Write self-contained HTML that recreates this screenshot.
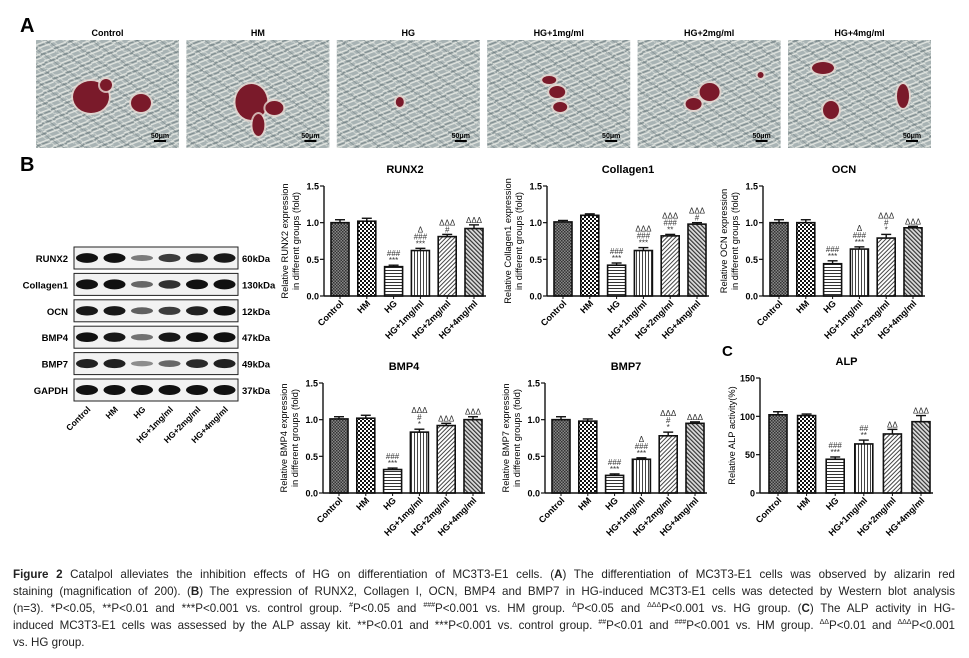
<!DOCTYPE html>
<html><head><meta charset="utf-8">
<style>
html,body{margin:0;padding:0;background:#fff;}
body{width:969px;height:658px;position:relative;overflow:hidden;font-family:"Liberation Sans",sans-serif;}
#fig{position:absolute;left:0;top:0;}
.cap{position:absolute;left:13px;width:942px;font-size:11.6px;color:#222;line-height:17px;white-space:nowrap;}
.cap div{text-align:justify;text-align-last:justify;white-space:normal;height:17px;overflow:hidden;}
.cap div.last{text-align-last:left;}
.cap sup{font-size:7px;vertical-align:5px;line-height:0;}
</style></head>
<body>
<svg id="fig" width="969" height="545" xmlns="http://www.w3.org/2000/svg" font-family="Liberation Sans, sans-serif">
<defs>
<pattern id="p0" width="3" height="3" patternUnits="userSpaceOnUse"><rect width="3" height="3" fill="#888"/><rect width="1.5" height="1.5" fill="#333"/><rect x="1.5" y="1.5" width="1.5" height="1.5" fill="#333"/></pattern>
<pattern id="p1" width="4" height="4" patternUnits="userSpaceOnUse"><rect width="4" height="4" fill="#fff"/><rect width="2" height="2" fill="#111"/><rect x="2" y="2" width="2" height="2" fill="#111"/></pattern>
<pattern id="p2" width="4" height="3" patternUnits="userSpaceOnUse"><rect width="4" height="3" fill="#fff"/><rect width="4" height="1" fill="#333"/></pattern>
<pattern id="p3" width="3" height="4" patternUnits="userSpaceOnUse"><rect width="3" height="4" fill="#fff"/><rect width="1" height="4" fill="#444"/></pattern>
<pattern id="p4" width="3" height="3" patternUnits="userSpaceOnUse" patternTransform="rotate(45)"><rect width="3" height="3" fill="#fff"/><rect width="1" height="3" fill="#444"/></pattern>
<pattern id="p5" width="3" height="3" patternUnits="userSpaceOnUse" patternTransform="rotate(-45)"><rect width="3" height="3" fill="#ddd"/><rect width="1.2" height="3" fill="#333"/></pattern>
<pattern id="cells" width="14" height="9" patternUnits="userSpaceOnUse" patternTransform="rotate(-25)"><rect width="14" height="9" fill="#a8b3b4"/><path d="M0 2 L14 3 M0 6 L14 7" stroke="#e4e7e2" stroke-width="1.3"/><path d="M0 4 L14 5" stroke="#6f7d80" stroke-width="0.8"/></pattern>
<pattern id="cells2" width="11" height="13" patternUnits="userSpaceOnUse" patternTransform="rotate(35)"><path d="M0 3 L11 4 M0 9 L11 10" stroke="#dfe3de" stroke-width="1" opacity="0.7"/><path d="M0 6 L11 7" stroke="#667578" stroke-width="0.7" opacity="0.6"/></pattern>
</defs>
<g id="partA"></g>
<text x="20" y="32" font-size="20" font-weight="bold">A</text>
<text x="20" y="171" font-size="20" font-weight="bold">B</text>
<text x="722" y="356" font-size="15" font-weight="bold">C</text>
<g id="blot"></g>
<g id="charts"></g>
</svg>

<div class="cap" style="top:566px">
<div><b>Figure 2</b> Catalpol alleviates the inhibition effects of HG on differentiation of MC3T3-E1 cells. (<b>A</b>) The differentiation of MC3T3-E1 cells was observed by alizarin red</div>
<div>staining (magnification of 200). (<b>B</b>) The expression of RUNX2, Collagen I, OCN, BMP4 and BMP7 in HG-induced MC3T3-E1 cells was detected by Western blot analysis</div>
<div>(n=3). *P&lt;0.05, **P&lt;0.01 and ***P&lt;0.001 vs. control group. <sup>#</sup>P&lt;0.05 and <sup>###</sup>P&lt;0.001 vs. HM group. <sup>&#916;</sup>P&lt;0.05 and <sup>&#916;&#916;&#916;</sup>P&lt;0.001 vs. HG group. (<b>C</b>) The ALP activity in HG-</div>
<div>induced MC3T3-E1 cells was assessed by the ALP assay kit. **P&lt;0.01 and ***P&lt;0.001 vs. control group. <sup>##</sup>P&lt;0.01 and <sup>###</sup>P&lt;0.001 vs. HM group. <sup>&#916;&#916;</sup>P&lt;0.01 and <sup>&#916;&#916;&#916;</sup>P&lt;0.001</div>
<div class="last">vs. HG group.</div>
</div>

<script>
const NS = "http://www.w3.org/2000/svg";
const groups = ["Control","HM","HG","HG+1mg/ml","HG+2mg/ml","HG+4mg/ml"];
const runx2Values = [1.0, 1.02, 0.40, 0.62, 0.81, 0.92];
const runx2Errors = [0.04, 0.04, 0.02, 0.03, 0.03, 0.05];
const collagenValues = [1.01, 1.10, 0.42, 0.62, 0.82, 0.98];
const collagenErrors = [0.02, 0.02, 0.03, 0.04, 0.02, 0.02];
const ocnValues = [1.0, 1.0, 0.44, 0.64, 0.79, 0.93];
const ocnErrors = [0.04, 0.04, 0.04, 0.03, 0.05, 0.02];
const bmp4Values = [1.01, 1.02, 0.32, 0.83, 0.92, 1.0];
const bmp4Errors = [0.03, 0.04, 0.02, 0.04, 0.03, 0.04];
const bmp7Values = [1.0, 0.98, 0.24, 0.46, 0.78, 0.95];
const bmp7Errors = [0.04, 0.03, 0.02, 0.02, 0.05, 0.02];
const alpValues = [102, 101, 44, 64, 77, 93];
const alpErrors = [4, 2, 3, 5, 6, 8];
const foldTicks = [0.0, 0.5, 1.0, 1.5];
const foldTickLabels = ["0.0","0.5","1.0","1.5"];
const alpTicks = [0, 50, 100, 150];
const alpTickLabels = ["0","50","100","150"];
const runx2Notes = [[],[],["###","***"],["Δ","###","***"],["ΔΔΔ","#"],["ΔΔΔ"]];
const collagenNotes = [[],[],["###","***"],["ΔΔΔ","###","***"],["ΔΔΔ","###","**"],["ΔΔΔ","#"]];
const ocnNotes = [[],[],["###","***"],["Δ","###","***"],["ΔΔΔ","#","*"],["ΔΔΔ"]];
const bmp4Notes = [[],[],["###","***"],["ΔΔΔ","#","*"],["ΔΔΔ"],["ΔΔΔ"]];
const bmp7Notes = [[],[],["###","***"],["Δ","###","***"],["ΔΔΔ","#","*"],["ΔΔΔ"]];
const alpNotes = [[],[],["###","***"],["##","**"],["ΔΔ"],["ΔΔΔ"]];
const blotProteins = ["RUNX2","Collagen1","OCN","BMP4","BMP7","GAPDH"];
const blotSizes = ["60kDa","130kDa","12kDa","47kDa","49kDa","37kDa"];
const blotIntensity = [
 [0.95,0.95,0.35,0.7,0.85,0.9],
 [1.0,1.0,0.45,0.75,0.95,1.0],
 [0.9,0.9,0.5,0.7,0.85,0.95],
 [0.95,0.9,0.4,0.9,0.95,1.0],
 [0.85,0.85,0.25,0.45,0.8,0.85],
 [1,1,1,1,1,1]];
const micrographTitles = ["Control","HM","HG","HG+1mg/ml","HG+2mg/ml","HG+4mg/ml"];

function mk(tag, attrs, parent){const e=document.createElementNS(NS,tag);for(const k in attrs)e.setAttribute(k,attrs[k]);parent.appendChild(e);return e;}

// Part A micrographs
const blobs = [
 [[55,57,18,16],[105,63,10,9],[70,45,6,6]],
 [[65,62,16,18],[88,68,9,7],[72,85,6,11]],
 [[63,62,4,5]],
 [[62,40,7,4],[70,52,8,6],[73,67,7,5]],
 [[72,52,10,9],[56,64,8,6],[123,35,3,3]],
 [[35,28,11,6],[43,70,8,9],[115,56,6,12]]];
const pa = document.getElementById("partA");
for(let i=0;i<6;i++){
  const x = 36 + i*150.4;
  const g = mk("g",{},pa);
  
  
  mk("rect",{x:x,y:40,width:143,height:108,fill:"url(#cells)"},g);
  mk("rect",{x:x,y:40,width:143,height:108,fill:"url(#cells2)"},g);
  for(const b of blobs[i]){
    mk("ellipse",{cx:x+b[0],cy:40+b[1],rx:b[2]+2,ry:b[3]+2,fill:"#e6d6d0",opacity:0.8},g);
    mk("ellipse",{cx:x+b[0],cy:40+b[1],rx:b[2],ry:b[3],fill:"#7a1a2a"},g);
  }
  const t = mk("text",{x:x+71.5,y:36,"font-size":9,"font-weight":"bold","text-anchor":"middle"},g);
  t.textContent = micrographTitles[i];
  const s = mk("text",{x:x+124,y:138,"font-size":7,"font-weight":"bold","text-anchor":"middle"},g);
  s.textContent = "50μm";
  mk("rect",{x:x+118,y:140,width:12,height:2,fill:"#000"},g);
}

// Western blot
const bl = document.getElementById("blot");
blotProteins.forEach((p,r)=>{
  const cy = 258 + r*26.4;
  const g = mk("g",{},bl);
  
  
  mk("rect",{x:74,y:cy-11,width:164,height:22,fill:"#f2f2f2",stroke:"#222","stroke-width":1},g);
  for(let l=0;l<6;l++){
    const a = blotIntensity[r][l];
    mk("ellipse",{cx:87+l*27.5,cy:cy,rx:11,ry:2+3*a,fill:"#111",opacity:Math.min(1,0.25+a*0.8)},g);
  }
  const t = mk("text",{x:68,y:cy+4,"font-size":9.5,"font-weight":"bold","text-anchor":"end"},g);
  t.textContent = p;
  const k = mk("text",{x:242,y:cy+4,"font-size":9.5,"font-weight":"bold"},g);
  k.textContent = blotSizes[r];
});
groups.forEach((gname,l)=>{
  const x = 91+l*27.5, y = 410;
  const t = mk("text",{x:x,y:y,"font-size":8.5,"font-weight":"bold","text-anchor":"end",transform:`rotate(-45 ${x} ${y})`},bl);
  
  
  t.textContent = gname;
});

// Charts
const cg = document.getElementById("charts");
function drawChart(o){
  const g = mk("g",{},cg);
  
  
  const yS = v => o.bottom - (v-o.min)/(o.max-o.min)*(o.bottom-o.top);
  const xS = i => o.ax + o.off + i*o.step;
  const right = xS(5) + 12;
  const tt = mk("text",{x:(o.ax+right)/2,y:o.top-13,"font-size":11,"font-weight":"bold","text-anchor":"middle"},g);
  
  
  tt.textContent = o.title;
  const ly = (o.top+o.bottom)/2;
  o.ylab.forEach((line,j)=>{
    const x = o.ax - 36 + j*11;
    const t = mk("text",{x:x,y:ly,"font-size":9.3,"text-anchor":"middle",transform:`rotate(-90 ${x} ${ly})`},g);
    
    
    t.textContent = line;
  });
  o.values.forEach((v,i)=>{
    const cx = xS(i), y = yS(v);
    const b = mk("rect",{x:cx-9,y:y,width:18,height:o.bottom-y,fill:`url(#p${i})`,stroke:"#111","stroke-width":1.6},g);
    
    
    const ye = yS(v+o.errors[i]);
    mk("line",{x1:cx,x2:cx,y1:y,y2:ye,stroke:"#111","stroke-width":1.4},g);
    mk("line",{x1:cx-5,x2:cx+5,y1:ye,y2:ye,stroke:"#111","stroke-width":1.4},g);
    o.notes[i].forEach((s,k)=>{
      const n = o.notes[i].length;
      const t = mk("text",{x:cx,y:ye-2-(n-1-k)*7,"font-size":8,"text-anchor":"middle",fill:"#333"},g);
      
      
      t.textContent = s;
    });
    const lx = cx+4, lyy = o.bottom+8;
    const xl = mk("text",{x:lx,y:lyy,"font-size":9,"font-weight":"bold","text-anchor":"end",transform:`rotate(-45 ${lx} ${lyy})`},g);
    
    
    xl.textContent = groups[i];
  });
  mk("line",{x1:o.ax,x2:o.ax,y1:o.top,y2:o.bottom,stroke:"#111","stroke-width":1.4},g);
  mk("line",{x1:o.ax,x2:right,y1:o.bottom,y2:o.bottom,stroke:"#111","stroke-width":1.4},g);
  o.ticks.forEach((v,k)=>{
    const y = yS(v);
    mk("line",{x1:o.ax-4,x2:o.ax,y1:y,y2:y,stroke:"#111","stroke-width":1.2},g);
    const t = mk("text",{x:o.ax-5,y:y+3.5,"font-size":9,"font-weight":"bold","text-anchor":"end"},g);
    
    
    t.textContent = o.tickLabels[k];
  });
  for(let i=0;i<6;i++){ mk("line",{x1:xS(i),x2:xS(i),y1:o.bottom,y2:o.bottom+3,stroke:"#111","stroke-width":1},g); }
}
const fold = (name,title,ax,top,values,errors,notes,prot)=>drawChart({name,title,ax,top,bottom:top+110,min:0,max:1.5,off:16,step:26.8,values,errors,notes,ticks:foldTicks,tickLabels:foldTickLabels,ylab:["Relative "+prot+" expression","in different groups (fold)"]});
fold("runx2-chart","RUNX2",324,186,runx2Values,runx2Errors,runx2Notes,"RUNX2");
fold("collagen1-chart","Collagen1",547,186,collagenValues,collagenErrors,collagenNotes,"Collagen1");
fold("ocn-chart","OCN",763,186,ocnValues,ocnErrors,ocnNotes,"OCN");
fold("bmp4-chart","BMP4",323,383,bmp4Values,bmp4Errors,bmp4Notes,"BMP4");
fold("bmp7-chart","BMP7",545,383,bmp7Values,bmp7Errors,bmp7Notes,"BMP7");
drawChart({name:"alp-chart",title:"ALP",ax:760,top:378,bottom:493,min:0,max:150,off:18,step:28.6,values:alpValues,errors:alpErrors,notes:alpNotes,ticks:alpTicks,tickLabels:alpTickLabels,ylab:["","Relative ALP activity(%)"]});
</script>
</body></html>
